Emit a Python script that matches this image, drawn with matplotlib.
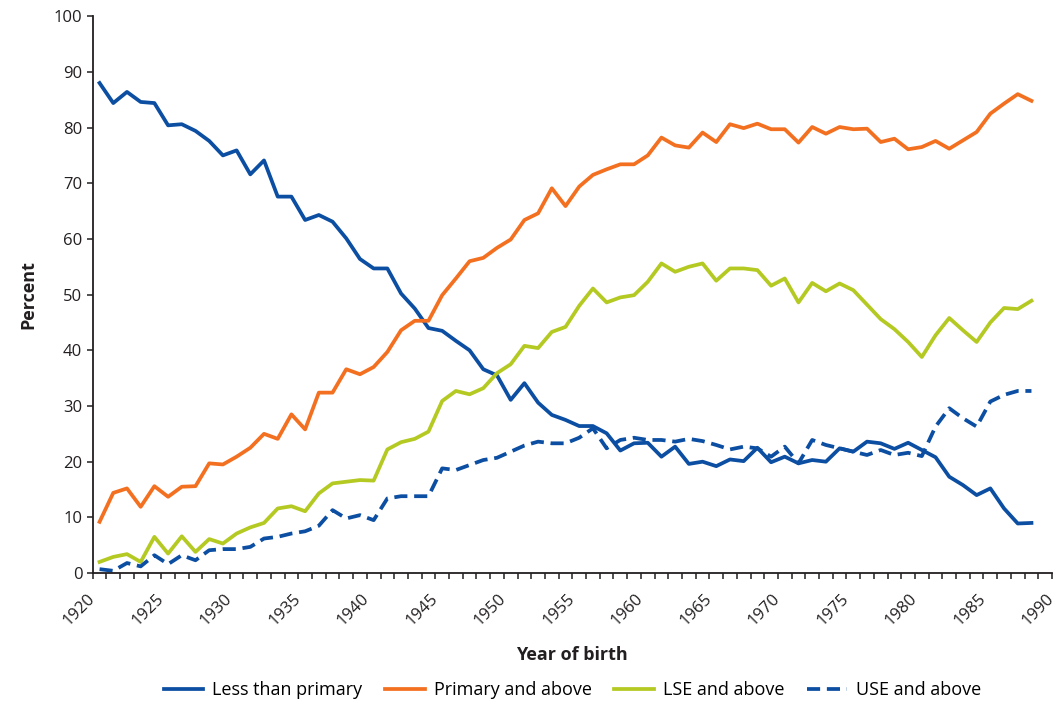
import numpy as np
import matplotlib
matplotlib.use('Agg')
from matplotlib import pyplot as plt
from matplotlib.ticker import MultipleLocator

# Share of people by education level, by year of birth
years = list(range(1920, 1989))

less_than_primary = [
    88.0, 84.4, 86.4, 84.6, 84.4, 80.4, 80.6, 79.4, 77.6, 75.0,
    75.9, 71.6, 74.1, 67.6, 67.6, 63.4, 64.3, 63.1, 60.1, 56.4,
    54.7, 54.7, 50.2, 47.5, 44.0, 43.5, 41.7, 40.0, 36.6, 35.5,
    31.1, 34.1, 30.6, 28.4, 27.5, 26.4, 26.4, 25.1, 22.0, 23.3,
    23.4, 20.9, 22.7, 19.6, 20.0, 19.2, 20.4, 20.1, 22.5, 19.9,
    20.9, 19.7, 20.3, 20.0, 22.4, 21.8, 23.6, 23.3, 22.3, 23.4,
    22.1, 20.8, 17.3, 15.8, 14.0, 15.2, 11.6, 8.9, 9.0,
]
primary_and_above = [
    9.2, 14.4, 15.2, 11.9, 15.6, 13.7, 15.5, 15.6, 19.7, 19.5,
    20.9, 22.5, 25.0, 24.1, 28.5, 25.8, 32.4, 32.4, 36.6, 35.7,
    37.0, 39.7, 43.6, 45.3, 45.3, 49.9, 52.9, 56.0, 56.6, 58.4,
    59.9, 63.4, 64.6, 69.1, 65.9, 69.4, 71.5, 72.5, 73.4, 73.4,
    75.0, 78.2, 76.8, 76.4, 79.1, 77.4, 80.6, 79.9, 80.7, 79.7,
    79.7, 77.3, 80.1, 78.9, 80.1, 79.7, 79.8, 77.4, 78.0, 76.1,
    76.5, 77.6, 76.2, 77.7, 79.2, 82.5, 84.3, 86.0, 84.8,
]
lse_and_above = [
    2.0, 2.9, 3.4, 2.0, 6.5, 3.5, 6.6, 3.8, 6.1, 5.3,
    7.1, 8.2, 9.0, 11.6, 12.0, 11.1, 14.3, 16.1, 16.4, 16.7,
    16.6, 22.2, 23.5, 24.1, 25.4, 30.9, 32.7, 32.1, 33.2, 35.9,
    37.5, 40.8, 40.4, 43.3, 44.2, 48.0, 51.1, 48.6, 49.5, 49.9,
    52.3, 55.6, 54.1, 55.0, 55.6, 52.5, 54.7, 54.7, 54.4, 51.6,
    52.9, 48.6, 52.1, 50.6, 52.0, 50.8, 48.2, 45.6, 43.8, 41.5,
    38.8, 42.7, 45.8, 43.6, 41.5, 45.0, 47.6, 47.4, 48.9,
]
use_and_above = [
    0.7, 0.4, 1.8, 1.2, 3.2, 1.6, 3.2, 2.3, 4.1, 4.3,
    4.3, 4.7, 6.2, 6.5, 7.1, 7.5, 8.5, 11.3, 9.8, 10.4,
    9.5, 13.4, 13.8, 13.8, 13.8, 18.8, 18.5, 19.4, 20.3, 20.7,
    21.8, 22.9, 23.6, 23.3, 23.3, 24.3, 26.0, 22.4, 23.9, 24.3,
    23.9, 23.9, 23.6, 24.1, 23.7, 23.0, 22.2, 22.7, 22.4, 20.9,
    22.7, 19.7, 23.9, 23.0, 22.4, 21.8, 21.2, 22.1, 21.2, 21.6,
    21.0, 26.3, 29.6, 27.8, 26.3, 30.8, 32.0, 32.7, 32.7,
]

series_names = ['Less than primary', 'Primary and above', 'LSE and above', 'USE and above']

plt.rcParams['font.family'] = ['Open Sans', 'DejaVu Sans']

fig = plt.figure(figsize=(10.62, 7.04), dpi=100)
ax = fig.add_axes([0.0873, 0.186, 0.9033, 0.791])

# category axis: each year sits in the middle of its slot
x = np.array(years) + 0.5
blue = '#0b4ea2'
ax.plot(x, less_than_primary, color=blue, lw=2.7, label=series_names[0])
ax.plot(x, primary_and_above, color='#f37021', lw=2.7, label=series_names[1])
ax.plot(x, lse_and_above, color='#b5c923', lw=2.7, label=series_names[2])
ax.plot(x, use_and_above, color=blue, lw=2.7, dashes=(3.5, 1.8), label=series_names[3])

ax.set_xlim(1920, 1990)
ax.set_ylim(0, 100)
ax.xaxis.set_major_locator(MultipleLocator(5))
ax.xaxis.set_minor_locator(MultipleLocator(1))
ax.yaxis.set_major_locator(MultipleLocator(10))

for s in ['top', 'right']:
    ax.spines[s].set_visible(False)
for s in ['left', 'bottom']:
    ax.spines[s].set_color('#231f20')
    ax.spines[s].set_linewidth(1.3)

ax.tick_params(axis='both', which='both', direction='out', length=4, width=1.1,
               color='#231f20', labelsize=12, labelcolor='#231f20')
ax.tick_params(axis='x', which='major', pad=13)
for lbl in ax.get_xticklabels():
    lbl.set_rotation(45)
    lbl.set_ha('right')
    lbl.set_va('center')
    lbl.set_rotation_mode('anchor')

ax.set_xlabel('Year of birth', fontsize=13, fontweight='bold', color='#231f20', labelpad=12)
ax.set_ylabel('Percent', fontsize=13, fontweight='bold', color='#231f20', labelpad=12)

ax.legend(loc='upper center', bbox_to_anchor=(0.5, -0.165), ncol=4, frameon=False,
          fontsize=13, handlelength=2.2, columnspacing=1.25, handletextpad=0.5)

fig.savefig('out.png', dpi=100)
